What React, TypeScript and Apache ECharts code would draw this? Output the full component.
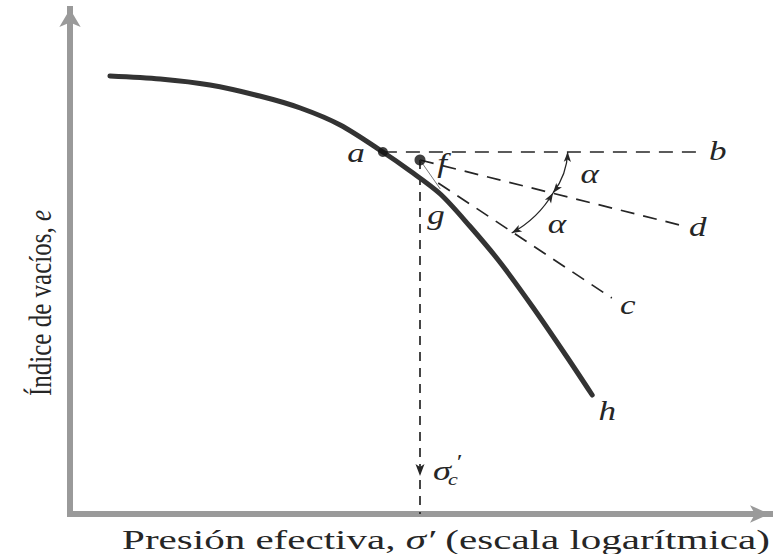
import React, { useEffect, useRef } from "react";
import * as echarts from "echarts";

// Void ratio e versus effective pressure (log scale), plotted in diagram units.
const curveX = [5.7, 12.9, 20, 27.1, 32.9, 38.6, 44.7, 48.6, 52.9, 57.1, 61.4, 66.1, 71, 74.6];
const curveY = [87.6, 87.0, 85.8, 83.6, 81.2, 77.8, 72.4, 68.6, 64.0, 57.6, 50.4, 41.4, 31.4, 23.8];

// Casagrande construction points
const pointA = [44.7, 72.4]; // start of horizontal a-b
const pointF = [50, 70.8]; // point of maximum curvature
const endB = [90.4, 72.4];
const endD = [87.1, 57.8];
const startC = [52.6, 66.2];
const endC = [77.4, 43.2];
const leaderG = [52.9, 65.0];
const sigmaFoot = [50, 0];
const sigmaArrow = [50, 8.6];

// Angle arcs between the construction lines (two equal angles alpha)
const arcOnB = [71.1, 72.4];
const arcOnD = [69.0, 64.2];
const arcOnC = [63.1, 56.2];

const INK = "#262626";
const AXIS = "#9a9a9a";
const SERIF = "Liberation Serif";

export default function App() {
  const ref = useRef<HTMLDivElement>(null);

  useEffect(() => {
    const chart = echarts.init(ref.current!, null, { renderer: "svg" });

    const hiddenAxis = {
      type: "value",
      axisTick: { show: false },
      axisLabel: { show: false },
      splitLine: { show: false },
    };

    const dashedLine = (a: number[], b: number[], dash: number[]) => ({
      type: "line",
      data: [a, b],
      showSymbol: false,
      silent: true,
      z: 3,
      lineStyle: { color: INK, width: 1.7, type: dash },
    });

    chart.setOption({
      animation: false,
      grid: { left: 70, right: 6, top: 9, bottom: 40 },
      xAxis: {
        ...hiddenAxis,
        min: 0,
        max: 100,
        axisLine: {
          show: true,
          symbol: ["none", "arrow"],
          symbolSize: [13, 20],
          lineStyle: { color: AXIS, width: 6, cap: "square" },
        },
      },
      yAxis: {
        ...hiddenAxis,
        min: 0,
        max: 101,
        axisLine: {
          show: true,
          symbol: ["none", "arrow"],
          symbolSize: [16, 18],
          lineStyle: { color: AXIS, width: 6, cap: "square" },
        },
      },
      series: [
        {
          type: "line",
          data: curveX.map((x, i) => [x, curveY[i]]),
          smooth: 0.3,
          showSymbol: false,
          silent: true,
          z: 4,
          lineStyle: { color: "#333", width: 5, cap: "round" },
        },
        dashedLine(pointA, endB, [14, 9]),
        dashedLine(pointF, endD, [14, 9]),
        dashedLine(startC, endC, [14, 9]),
        dashedLine(pointF, sigmaFoot, [9, 7]),
        {
          type: "line",
          data: [pointF, leaderG],
          showSymbol: false,
          silent: true,
          z: 3,
          lineStyle: { color: "#777", width: 1 },
        },
        {
          type: "scatter",
          data: [pointA],
          symbolSize: 10,
          z: 6,
          itemStyle: { color: "#111" },
        },
        {
          type: "scatter",
          data: [pointF],
          symbolSize: 11,
          z: 6,
          itemStyle: { color: "#111" },
        },
      ],
    });

    const px = (p: number[]) => chart.convertToPixel({ gridIndex: 0 }, p) as number[];

    // filled arrow head with its tip at (tx, ty), pointing along (dx, dy)
    const arrowHead = (tx: number, ty: number, dx: number, dy: number, len: number, half: number) => {
      const n = Math.hypot(dx, dy) || 1;
      const ux = dx / n;
      const uy = dy / n;
      return {
        type: "polygon",
        silent: true,
        z: 10,
        shape: {
          points: [
            [tx, ty],
            [tx - ux * len - uy * half, ty - uy * len + ux * half],
            [tx - ux * len * 0.75, ty - uy * len * 0.75],
            [tx - ux * len + uy * half, ty - uy * len - ux * half],
          ],
        },
        style: { fill: INK },
      };
    };

    // quadratic arc between two points, bulging to the right of the chord
    const angleArc = (p0: number[], p2: number[], bulge: number) => {
      const [x0, y0] = px(p0);
      const [x2, y2] = px(p2);
      const cl = Math.hypot(x2 - x0, y2 - y0);
      const nx = -(y2 - y0) / cl;
      const ny = (x2 - x0) / cl;
      const cpx = (x0 + x2) / 2 - nx * bulge * 2;
      const cpy = (y0 + y2) / 2 - ny * bulge * 2;
      return [
        {
          type: "bezierCurve",
          silent: true,
          z: 9,
          shape: { x1: x0, y1: y0, x2, y2, cpx1: cpx, cpy1: cpy },
          style: { stroke: INK, lineWidth: 1.3, fill: "none" },
        },
        arrowHead(x0, y0, x0 - cpx, y0 - cpy, 10, 3.6),
        arrowHead(x2, y2, x2 - cpx, y2 - cpy, 10, 3.6),
      ];
    };

    const letter = (text: string, anchor: number[], dx: number, dy: number, size = 27) => {
      const [x, y] = px(anchor);
      return {
        type: "text",
        silent: true,
        z: 12,
        x: x + dx,
        y: y + dy,
        scaleX: 1.3,
        style: {
          text,
          fill: INK,
          font: `italic ${size}px "Liberation Serif"`,
          align: "center",
          verticalAlign: "middle",
        },
      };
    };

    const [sx, sy] = px(sigmaArrow);
    const curveEnd = [curveX[curveX.length - 1], curveY[curveY.length - 1]];

    chart.setOption({
      graphic: [
        ...angleArc(arcOnB, arcOnD, 3.5),
        ...angleArc(arcOnD, arcOnC, 4),
        arrowHead(sx, sy + 5, 0, 1, 12, 4.5),
        letter("a", pointA, -27, 1),
        letter("f", pointF, 22, 3),
        letter("g", pointF, 16, 55),
        letter("b", endB, 15, -1),
        letter("d", endD, 18, 2),
        letter("c", endC, 16, 7),
        letter("h", curveEnd, 15, 16),
        letter("α", arcOnB, 22, 22),
        letter("α", arcOnD, 4, 31),
        letter("σ", sigmaArrow, 22, 0, 28),
        letter("c", sigmaArrow, 33, 8, 17),
        letter("′", sigmaArrow, 38, -9, 20),
        {
          type: "text",
          silent: true,
          x: 446,
          y: 540,
          scaleX: 1.52,
          style: {
            text: "{n|Presión efectiva, }{i|σ′}{n| (escala logarítmica)}",
            align: "center",
            verticalAlign: "middle",
            rich: {
              n: { fontFamily: SERIF, fontSize: 27, fill: INK },
              i: { fontFamily: SERIF, fontSize: 27, fontStyle: "italic", fill: INK },
            },
          },
        },
        {
          type: "text",
          silent: true,
          x: 40,
          y: 303,
          rotation: Math.PI / 2,
          scaleY: 1.3,
          style: {
            text: "{n|Índice de vacíos, }{i|e}",
            align: "center",
            verticalAlign: "middle",
            rich: {
              n: { fontFamily: SERIF, fontSize: 25, fill: INK },
              i: { fontFamily: SERIF, fontSize: 25, fontStyle: "italic", fill: INK },
            },
          },
        },
      ],
    });

    return () => chart.dispose();
  }, []);

  return (
    <div
      ref={ref}
      style={{ position: "fixed", left: 0, top: 0, width: 776, height: 554, background: "#fff" }}
    />
  );
}
